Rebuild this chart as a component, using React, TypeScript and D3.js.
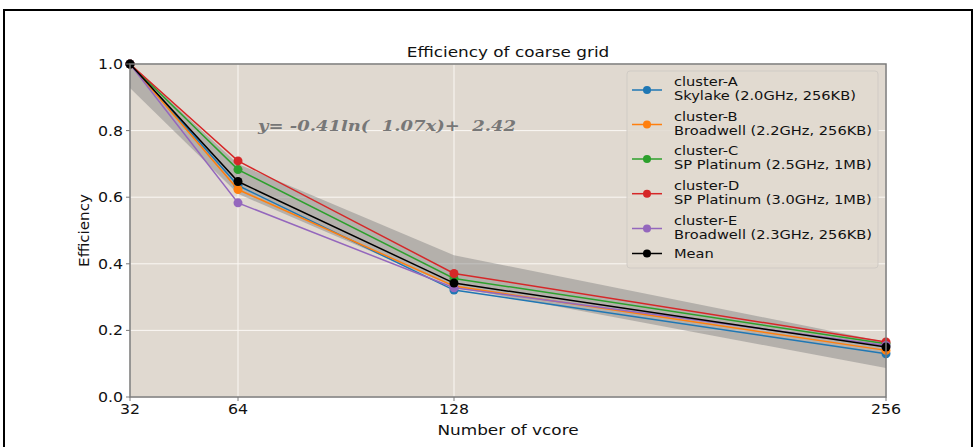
import React from "react";
import * as d3 from "d3";

// vcore counts on the x axis
const vcores = [32, 64, 128, 256];
const xTicks = [32, 64, 128, 256];
const yTicks = [0, 0.2, 0.4, 0.6, 0.8, 1.0];

// efficiency per cluster
const clusterA = [1.0, 0.635, 0.321, 0.13];
const clusterB = [1.0, 0.623, 0.333, 0.14];
const clusterC = [1.0, 0.683, 0.356, 0.16];
const clusterD = [1.0, 0.709, 0.371, 0.165];
const clusterE = [1.0, 0.583, 0.328, 0.155];
const meanEff = [1.0, 0.647, 0.342, 0.15];

// shaded band around the fitted curve
const bandLower = [0.928, 0.61, 0.33, 0.087];
const bandUpper = [1.0, 0.7, 0.426, 0.165];

const seriesNames = [
  ["cluster-A", "Skylake (2.0GHz, 256KB)"],
  ["cluster-B", "Broadwell (2.2GHz, 256KB)"],
  ["cluster-C", "SP Platinum (2.5GHz, 1MB)"],
  ["cluster-D", "SP Platinum (3.0GHz, 1MB)"],
  ["cluster-E", "Broadwell (2.3GHz, 256KB)"],
  ["Mean"],
];
const seriesValues = [clusterA, clusterB, clusterC, clusterD, clusterE, meanEff];
const seriesColors = ["#1f77b4", "#ff7f0e", "#2ca02c", "#d62728", "#9467bd", "#000000"];

const fitLabel = "y= -0.41ln(  1.07x)+  2.42";

type TProps = {
  x: number;
  y: number;
  sx: number;
  size: number;
  anchor?: "start" | "middle" | "end";
  children: React.ReactNode;
  family?: string;
  weight?: string;
  italic?: boolean;
  fill?: string;
};

// text widened along its baseline
function WideText({ x, y, sx, size, anchor = "start", children, family, weight, italic, fill = "#111" }: TProps) {
  return (
    <text
      transform={`translate(${x},${y}) scale(${sx},1)`}
      textAnchor={anchor}
      fontFamily={family || "DejaVu Sans, sans-serif"}
      fontSize={size}
      fontWeight={weight}
      fontStyle={italic ? "italic" : undefined}
      fill={fill}
      style={{ whiteSpace: "pre" }}
    >
      {children}
    </text>
  );
}

export default function App() {
  const W = 975;
  const H = 447;
  const left = 130, right = 886, top = 64, bottom = 397;
  const x = d3.scaleLinear().domain([32, 256]).range([left, right]);
  const y = d3.scaleLinear().domain([0, 1]).range([bottom, top]);
  const spine = "#7a7a7a";

  const line = d3
    .line<number>()
    .x((_, i) => x(vcores[i]))
    .y((d) => y(d));
  const area = d3
    .area<number>()
    .x((_, i) => x(vcores[i]))
    .y0((_, i) => y(bandLower[i]))
    .y1((d) => y(d));

  const legX = 627, legY = 71, legW = 251, legH = 197;
  const markerYs = [90, 124.5, 159, 193.7, 228.5, 253.5];

  return (
    <div style={{ position: "fixed", left: 0, top: 0 }}>
      <svg width={W} height={H} style={{ display: "block", background: "#fff" }}>
        <rect x={4} y={10} width={968} height={460} fill="none" stroke="#000" strokeWidth={2} />
        <rect x={left} y={top} width={right - left} height={bottom - top} fill="#e0d9d0" />
        {/* grid */}
        {xTicks.map((t) => (
          <line key={"gx" + t} x1={x(t)} x2={x(t)} y1={top} y2={bottom} stroke="#fbf8f4" strokeWidth={1} />
        ))}
        {yTicks.map((t) => (
          <line key={"gy" + t} x1={left} x2={right} y1={y(t)} y2={y(t)} stroke="#fbf8f4" strokeWidth={1} />
        ))}
        {/* band */}
        <path d={area(bandUpper) || ""} fill="#7f7f7f" fillOpacity={0.45} />
        {/* series */}
        {seriesValues.map((vals, s) => (
          <g key={"s" + s}>
            <path d={line(vals) || ""} fill="none" stroke={seriesColors[s]} strokeWidth={1.5} />
            {vals.map((v, i) => (
              <circle key={i} cx={x(vcores[i])} cy={y(v)} r={4.5} fill={seriesColors[s]} />
            ))}
          </g>
        ))}
        <WideText x={258} y={131} sx={1.16} size={15.5} family="DejaVu Serif, serif" weight="bold" italic fill="#777">
          {fitLabel}
        </WideText>
        {/* spines */}
        <rect x={left} y={top} width={right - left} height={bottom - top} fill="none" stroke={spine} strokeWidth={1.5} />
        {/* ticks */}
        {xTicks.map((t) => (
          <g key={"tx" + t}>
            <line x1={x(t)} x2={x(t)} y1={bottom} y2={bottom + 4} stroke={spine} strokeWidth={1} />
            <WideText x={x(t)} y={bottom + 17} sx={1.17} size={13.5} anchor="middle">
              {t}
            </WideText>
          </g>
        ))}
        {yTicks.map((t) => (
          <g key={"ty" + t}>
            <line x1={left - 4} x2={left} y1={y(t)} y2={y(t)} stroke={spine} strokeWidth={1} />
            <WideText x={left - 7} y={y(t) + 5} sx={1.17} size={13.5} anchor="end">
              {t.toFixed(1)}
            </WideText>
          </g>
        ))}
        <WideText x={(left + right) / 2} y={57} sx={1.25} size={13.5} anchor="middle">
          Efficiency of coarse grid
        </WideText>
        <WideText x={(left + right) / 2} y={435} sx={1.25} size={13.5} anchor="middle">
          Number of vcore
        </WideText>
        <text
          transform={`translate(89, ${(top + bottom) / 2}) rotate(-90) scale(1.12,1)`}
          textAnchor="middle"
          fontFamily="DejaVu Sans, sans-serif"
          fontSize={13.5}
          fill="#111"
        >
          Efficiency
        </text>
        {/* legend */}
        <rect x={legX} y={legY} width={legW} height={legH} rx={3} fill="#e0d9d0" fillOpacity={0.85} stroke="#d0cbc5" strokeWidth={1} />
        {seriesNames.map((names, s) => {
          const my = markerYs[s];
          return (
            <g key={"l" + s}>
              <line x1={632} x2={662} y1={my} y2={my} stroke={seriesColors[s]} strokeWidth={1.5} />
              <circle cx={647} cy={my} r={4} fill={seriesColors[s]} />
              {names.length === 2 ? (
                <>
                  <WideText x={674} y={my - 4} sx={1.17} size={12.5}>{names[0]}</WideText>
                  <WideText x={674} y={my + 10} sx={1.17} size={12.5}>{names[1]}</WideText>
                </>
              ) : (
                <WideText x={674} y={my + 4.5} sx={1.17} size={12.5}>{names[0]}</WideText>
              )}
            </g>
          );
        })}
      </svg>
    </div>
  );
}
